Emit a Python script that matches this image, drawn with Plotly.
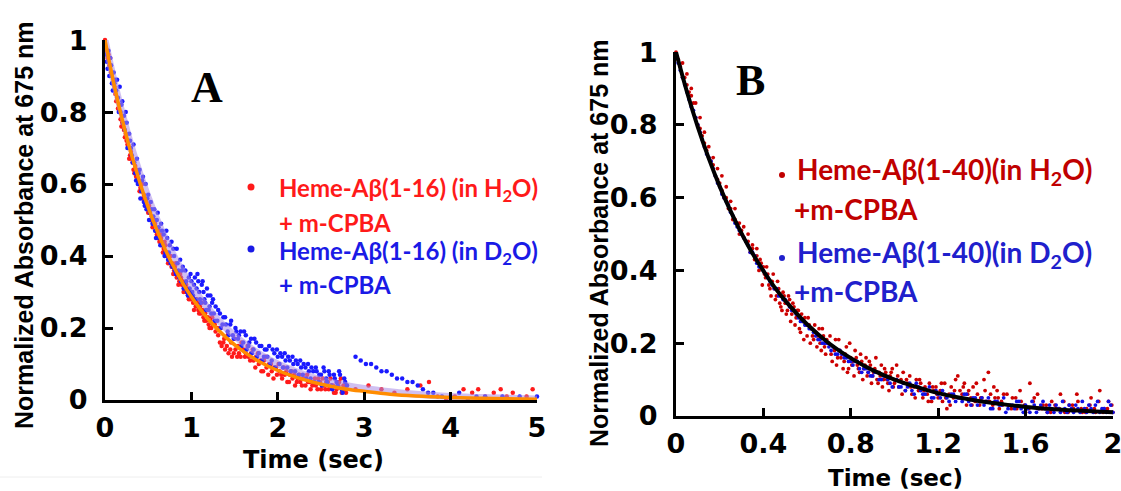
import plotly.graph_objects as go

# ---------------- DATA ----------------
# Panel A : Heme-Abeta(1-16) + m-CPBA, (time [s], normalized absorbance)
a_h2o = [(0.00,1.00),(0.02,0.97),(0.03,0.95),(0.05,0.93),(0.06,0.95),(0.08,0.90),(0.09,0.88),(0.11,0.87),(0.12,0.85),
 (0.14,0.84),(0.15,0.81),(0.17,0.80),(0.18,0.78),(0.20,0.77),(0.21,0.76),(0.23,0.73),(0.24,0.74),(0.26,0.71),(0.27,0.70),
 (0.29,0.68),(0.30,0.69),(0.32,0.66),(0.33,0.64),(0.35,0.65),(0.36,0.62),(0.38,0.61),(0.39,0.60),(0.41,0.59),(0.42,0.58),
 (0.44,0.56),(0.45,0.57),(0.47,0.54),(0.48,0.55),(0.50,0.52),(0.51,0.54),(0.53,0.50),(0.54,0.51),(0.56,0.49),(0.57,0.50),
 (0.59,0.47),(0.60,0.46),(0.62,0.47),(0.63,0.44),(0.65,0.45),(0.66,0.43),(0.68,0.42),(0.69,0.44),(0.71,0.40),(0.72,0.41),
 (0.74,0.39),(0.75,0.40),(0.77,0.37),(0.78,0.38),(0.80,0.36),(0.81,0.37),(0.83,0.34),(0.84,0.35),(0.86,0.33),(0.87,0.35),
 (0.89,0.32),(0.90,0.33),(0.92,0.31),(0.93,0.30),(0.95,0.31),(0.96,0.29),(0.98,0.30),(0.99,0.28),(1.01,0.29),(1.02,0.27),
 (1.04,0.28),(1.05,0.26),(1.07,0.27),(1.08,0.25),(1.10,0.26),(1.11,0.24),(1.13,0.25),(1.14,0.23),(1.16,0.24),(1.17,0.22),
 (1.19,0.23),(1.20,0.21),(1.22,0.22),(1.23,0.20),(1.25,0.21),(1.28,0.19),(1.30,0.20),(1.33,0.16),(1.35,0.15),(1.37,0.16),
 (1.39,0.14),(1.41,0.15),(1.43,0.13),(1.45,0.14),(1.47,0.12),(1.49,0.13),(1.51,0.14),(1.53,0.12),(1.55,0.13),(1.57,0.12),
 (1.60,0.14),(1.63,0.13),(1.66,0.12),(1.69,0.13),(1.72,0.11),(1.75,0.12),(1.78,0.10),(1.81,0.08),(1.84,0.11),(1.87,0.09),
 (1.90,0.10),(1.93,0.08),(1.96,0.09),(1.99,0.07),(2.02,0.08),(2.05,0.06),(2.08,0.07),(2.11,0.05),(2.14,0.07),(2.17,0.06),
 (2.20,0.04),(2.23,0.06),(2.26,0.05),(2.29,0.06),(2.32,0.04),(2.35,0.05),(2.38,0.03),(2.41,0.05),(2.44,0.04),(2.47,0.06),
 (2.50,0.03),(2.53,0.04),(2.56,0.05),(2.59,0.03),(2.62,0.04),(2.65,0.02),(2.68,0.03),(2.71,0.05),(2.74,0.02),(2.77,0.03),
 (2.80,0.04),(2.90,0.03),(3.05,0.04),(3.20,0.03),(3.35,0.02),(3.50,0.03),(3.65,0.04),(3.75,0.05),(3.85,0.01),(3.95,0.00),
 (4.05,0.01),(4.15,0.03),(4.25,0.02),(4.32,0.03),(4.40,0.01),(4.50,0.02),(4.58,0.03),(4.65,0.01),(4.72,0.02),(4.80,0.00),
 (4.88,0.01),(4.95,0.03)]
a_h2o_more = [(0.04,0.96),(0.07,0.91),(0.10,0.89),(0.13,0.83),(0.16,0.82),(0.19,0.76),(0.22,0.75),(0.25,0.72),(0.28,0.67),
 (0.31,0.67),(0.34,0.63),(0.37,0.64),(0.40,0.58),(0.43,0.60),(0.46,0.55),(0.49,0.53),(0.52,0.52),(0.55,0.48),(0.58,0.49),
 (0.61,0.45),(0.64,0.46),(0.67,0.41),(0.70,0.43),(0.73,0.38),(0.76,0.40),(0.79,0.35),(0.82,0.38),(0.85,0.32),(0.88,0.34),
 (0.91,0.30),(0.94,0.32),(0.97,0.28),(1.00,0.30),(1.03,0.25),(1.06,0.28),(1.09,0.24),(1.12,0.27),(1.15,0.22),(1.18,0.25),
 (1.21,0.20),(1.24,0.23),(1.27,0.21),(1.31,0.18),(1.34,0.20),(1.38,0.17),(1.42,0.18),(1.46,0.16),(1.50,0.17),(1.54,0.15),
 (1.58,0.16),(1.62,0.12),(1.65,0.15),(1.68,0.11),(1.71,0.14),(1.74,0.09),(1.77,0.13),(1.80,0.11),(1.83,0.08),(1.86,0.12),
 (1.89,0.07),(1.92,0.10),(1.95,0.06),(1.98,0.09),(2.01,0.10),(2.04,0.07),(2.07,0.09),(2.10,0.08),(2.13,0.05),(2.16,0.08),
 (2.19,0.07),(2.22,0.05),(2.25,0.07),(2.28,0.04),(2.31,0.06),(2.34,0.07),(2.37,0.05),(2.40,0.04),(2.43,0.06),(2.46,0.03),
 (2.49,0.05),(2.52,0.06),(2.55,0.03),(2.58,0.05),(2.61,0.06),(2.64,0.04),(2.67,0.02),(2.70,0.04),(2.73,0.06),(2.76,0.04),
 (2.79,0.02)]

a_d2o = [(0.00,0.98),(0.02,0.94),(0.04,0.97),(0.05,0.90),(0.07,0.93),(0.08,0.88),(0.10,0.91),(0.12,0.89),(0.13,0.86),
 (0.15,0.84),(0.17,0.87),(0.18,0.80),(0.20,0.83),(0.22,0.79),(0.23,0.75),(0.25,0.77),(0.27,0.72),(0.28,0.74),(0.30,0.70),
 (0.32,0.66),(0.33,0.71),(0.35,0.63),(0.37,0.67),(0.38,0.60),(0.40,0.64),(0.42,0.58),(0.43,0.61),(0.45,0.55),(0.47,0.60),
 (0.48,0.53),(0.50,0.57),(0.52,0.52),(0.53,0.55),(0.55,0.49),(0.57,0.53),(0.58,0.47),(0.60,0.50),(0.62,0.48),(0.63,0.45),
 (0.65,0.49),(0.67,0.43),(0.68,0.46),(0.70,0.41),(0.72,0.45),(0.73,0.39),(0.75,0.43),(0.77,0.44),(0.78,0.37),(0.80,0.40),
 (0.82,0.35),(0.83,0.42),(0.85,0.36),(0.87,0.39),(0.88,0.33),(0.90,0.37),(0.92,0.32),(0.93,0.36),(0.95,0.30),(0.97,0.34),
 (0.98,0.31),(1.00,0.33),(1.02,0.29),(1.04,0.34),(1.06,0.31),(1.08,0.33),(1.10,0.28),(1.12,0.32),(1.14,0.30),(1.16,0.27),
 (1.18,0.31),(1.20,0.25),(1.22,0.29),(1.24,0.27),(1.26,0.24),(1.28,0.26),(1.30,0.22),(1.33,0.24),(1.36,0.21),(1.39,0.23),
 (1.42,0.19),(1.45,0.21),(1.48,0.18),(1.51,0.20),(1.54,0.17),(1.57,0.19),(1.60,0.16),(1.63,0.18),(1.66,0.15),(1.69,0.17),
 (1.72,0.14),(1.75,0.16),(1.78,0.13),(1.81,0.15),(1.84,0.12),(1.87,0.14),(1.90,0.15),(1.93,0.11),(1.96,0.13),(1.99,0.14),
 (2.02,0.10),(2.05,0.12),(2.08,0.13),(2.11,0.09),(2.14,0.11),(2.17,0.12),(2.20,0.08),(2.23,0.10),(2.26,0.11),(2.29,0.07),
 (2.32,0.09),(2.35,0.10),(2.38,0.06),(2.41,0.08),(2.44,0.09),(2.47,0.05),(2.50,0.07),(2.53,0.09),(2.56,0.06),(2.59,0.08),
 (2.62,0.04),(2.65,0.07),(2.68,0.05),(2.71,0.08),(2.74,0.03),(2.77,0.06),(2.80,0.04),(2.90,0.12),(2.96,0.11),(3.02,0.10),
 (3.08,0.10),(3.14,0.09),(3.20,0.08),(3.26,0.08),(3.32,0.07),(3.38,0.06),(3.44,0.06),(3.50,0.05),(3.56,0.05),(3.62,0.04),
 (3.68,0.03),(3.74,0.02),(3.80,0.02),(3.90,0.01),(4.00,0.01),(4.10,0.02),(4.20,0.00),(4.30,0.01),(4.40,0.01),(4.50,0.00),
 (4.60,0.01),(4.70,0.00),(4.80,0.01),(4.90,0.00),(5.00,0.01)]
a_d2o_more = [(0.01,0.96),(0.03,0.92),(0.06,0.95),(0.09,0.86),(0.11,0.88),(0.14,0.89),(0.16,0.80),(0.19,0.82),(0.21,0.77),
 (0.24,0.80),(0.26,0.70),(0.29,0.72),(0.31,0.68),(0.34,0.66),(0.36,0.61),(0.39,0.63),(0.41,0.56),(0.44,0.62),(0.46,0.54),
 (0.49,0.56),(0.51,0.50),(0.54,0.53),(0.56,0.51),(0.59,0.45),(0.61,0.52),(0.64,0.43),(0.66,0.47),(0.69,0.40),(0.71,0.47),
 (0.74,0.41),(0.76,0.38),(0.79,0.42),(0.81,0.36),(0.84,0.38),(0.86,0.34),(0.89,0.36),(0.91,0.31),(0.94,0.33),(0.96,0.29),
 (0.99,0.35),(1.01,0.30),(1.03,0.32),(1.05,0.28),(1.07,0.35),(1.09,0.30),(1.11,0.27),(1.13,0.33),(1.15,0.28),(1.17,0.25),
 (1.19,0.29),(1.21,0.26),(1.23,0.24),(1.25,0.28),(1.27,0.22),(1.31,0.25),(1.34,0.20),(1.37,0.23),(1.40,0.21),(1.43,0.18),
 (1.46,0.22),(1.49,0.17),(1.52,0.19),(1.55,0.18),(1.58,0.15),(1.61,0.19),(1.64,0.14),(1.67,0.16),(1.70,0.13),(1.73,0.17),
 (1.76,0.12),(1.79,0.15),(1.82,0.11),(1.85,0.14),(1.88,0.12),(1.91,0.10),(1.94,0.14),(1.97,0.09),(2.00,0.12),(2.03,0.13),
 (2.06,0.09),(2.09,0.11),(2.12,0.12),(2.15,0.08),(2.18,0.10),(2.21,0.11),(2.24,0.07),(2.27,0.09),(2.30,0.10),(2.33,0.06),
 (2.36,0.08),(2.39,0.09),(2.42,0.05),(2.45,0.08),(2.48,0.07),(2.51,0.04),(2.54,0.08),(2.57,0.05),(2.60,0.07),(2.63,0.03),
 (2.66,0.06),(2.69,0.04),(2.72,0.07),(2.75,0.02),(2.78,0.05)]

a_fit_t = [0,0.1,0.2,0.3,0.4,0.5,0.6,0.7,0.8,0.9,1.0,1.2,1.4,1.6,1.8,2.0,2.2,2.4,2.6,2.8,3.0,3.3,3.6,4.0,4.5,5.0]
a_fit_h2o = [1.0,0.882,0.779,0.687,0.607,0.535,0.472,0.417,0.368,0.325,0.287,0.223,0.174,0.135,0.105,0.082,0.064,
             0.050,0.039,0.030,0.024,0.016,0.011,0.007,0.004,0.002]
a_fit_d2o = [1.0,0.891,0.795,0.708,0.631,0.563,0.502,0.447,0.399,0.355,0.317,0.252,0.200,0.159,0.126,0.100,0.080,
             0.063,0.050,0.040,0.032,0.023,0.016,0.010,0.006,0.003]

# Panel B : Heme-Abeta(1-40) + m-CPBA
b_h2o = [(0.00,1.00),(0.01,0.98),(0.02,0.96),(0.03,0.93),(0.04,0.93),(0.05,0.91),(0.06,0.89),(0.07,0.88),(0.08,0.86),
 (0.09,0.82),(0.10,0.80),(0.11,0.79),(0.12,0.77),(0.13,0.75),(0.14,0.73),(0.15,0.71),(0.16,0.70),(0.17,0.69),(0.18,0.66),
 (0.19,0.65),(0.20,0.64),(0.21,0.62),(0.22,0.60),(0.23,0.60),(0.24,0.57),(0.25,0.57),(0.26,0.54),(0.27,0.54),(0.28,0.53),
 (0.29,0.50),(0.30,0.51),(0.31,0.49),(0.32,0.48),(0.33,0.48),(0.34,0.45),(0.35,0.46),(0.36,0.43),(0.37,0.44),(0.38,0.40),
 (0.39,0.42),(0.40,0.41),(0.41,0.38),(0.42,0.39),(0.43,0.35),(0.44,0.37),(0.45,0.35),(0.46,0.33),(0.47,0.35),(0.48,0.30),
 (0.49,0.34),(0.50,0.31),(0.51,0.29),(0.52,0.32),(0.53,0.28),(0.54,0.30),(0.55,0.27),(0.56,0.29),(0.57,0.23),(0.58,0.26),
 (0.59,0.27),(0.60,0.22),(0.61,0.25),(0.62,0.24),(0.63,0.21),(0.64,0.23),(0.65,0.22),(0.66,0.20),(0.67,0.24),(0.68,0.19),
 (0.69,0.21),(0.70,0.20),(0.71,0.17),(0.72,0.19),(0.73,0.21),(0.74,0.16),(0.75,0.18),(0.76,0.17),(0.77,0.15),(0.78,0.19),
 (0.79,0.13),(0.80,0.16),(0.81,0.15),(0.82,0.18),(0.83,0.14),(0.84,0.12),(0.85,0.15),(0.86,0.13),(0.87,0.16),(0.88,0.12),
 (0.89,0.14),(0.90,0.11),(0.91,0.13),(0.92,0.10),(0.93,0.12),(0.94,0.14),(0.95,0.10),(0.96,0.12),(0.97,0.09),(0.98,0.11),
 (0.99,0.13),(1.00,0.09),(1.01,0.14),(1.02,0.08),(1.03,0.10),(1.04,0.12),(1.05,0.07),(1.06,0.09),(1.07,0.11),(1.08,0.06),
 (1.09,0.08),(1.10,0.10),(1.11,0.07),(1.12,0.09),(1.13,0.05),(1.14,0.08),(1.15,0.06),(1.16,0.09),(1.17,0.04),(1.18,0.07),
 (1.19,0.08),(1.20,0.05),(1.21,0.07),(1.22,0.04),(1.23,0.09),(1.24,0.02),(1.25,0.06),(1.26,0.08),(1.27,0.05),(1.28,0.10),
 (1.29,0.11),(1.30,0.07),(1.31,0.06),(1.32,0.09),(1.33,0.03),(1.34,0.07),(1.35,0.05),(1.36,0.08),(1.37,0.04),(1.38,0.06),
 (1.39,0.03),(1.40,0.05),(1.41,0.10),(1.42,0.04),(1.43,0.12),(1.44,0.06),(1.45,0.03),(1.46,0.05),(1.47,0.07),(1.48,0.02),
 (1.49,0.04),(1.50,0.06),(1.52,0.03),(1.54,0.05),(1.56,0.02),(1.58,0.04),(1.60,0.01),(1.62,0.09),(1.64,0.05),(1.66,0.02),
 (1.68,0.03),(1.70,0.01),(1.72,0.04),(1.74,0.02),(1.76,0.06),(1.78,0.01),(1.80,0.03),(1.82,0.02),(1.84,0.04),(1.86,0.01),
 (1.88,0.02),(1.90,0.05),(1.92,0.01),(1.94,0.07),(1.96,0.02),(1.98,0.04),(2.00,0.01)]
b_h2o_more = [(0.03,0.97),(0.05,0.94),(0.07,0.90),(0.09,0.86),(0.11,0.82),(0.13,0.78),(0.15,0.74),(0.17,0.71),(0.19,0.68),
 (0.21,0.66),(0.23,0.63),(0.25,0.59),(0.27,0.57),(0.29,0.53),(0.31,0.52),(0.33,0.50),(0.35,0.47),(0.37,0.46),(0.385,0.43),
 (0.395,0.36),(0.405,0.39),(0.415,0.41),(0.425,0.36),(0.435,0.33),(0.445,0.39),(0.455,0.32),(0.465,0.37),(0.475,0.31),
 (0.485,0.29),(0.495,0.33),(0.505,0.28),(0.515,0.33),(0.525,0.26),(0.535,0.31),(0.545,0.25),(0.555,0.29),(0.565,0.24),
 (0.575,0.28),(0.585,0.21),(0.595,0.25),(0.605,0.27),(0.615,0.20),(0.625,0.22),(0.635,0.25),(0.645,0.19),(0.655,0.24),
 (0.665,0.18),(0.675,0.22),(0.685,0.17),(0.695,0.20),(0.705,0.22),(0.715,0.15),(0.725,0.18),(0.735,0.14),(0.745,0.21),
 (0.755,0.16),(0.765,0.13),(0.775,0.17),(0.785,0.12),(0.795,0.20),(0.805,0.14),(0.815,0.11),(0.825,0.16),(0.835,0.13),
 (0.845,0.17),(0.855,0.10),(0.865,0.14),(0.875,0.11),(0.885,0.15),(0.895,0.09),(0.905,0.12),(0.915,0.16),(0.925,0.09),
 (0.935,0.11),(0.945,0.08),(0.955,0.13),(0.965,0.10),(0.975,0.07),(0.985,0.12),(0.995,0.08),(1.015,0.11),(1.035,0.06),
 (1.055,0.10),(1.075,0.08),(1.095,0.05),(1.115,0.10),(1.135,0.07),(1.155,0.04),(1.175,0.08),(1.195,0.06),(1.215,0.09),
 (1.235,0.05),(1.255,0.03),(1.275,0.07),(1.295,0.05),(1.315,0.08),(1.335,0.06),(1.355,0.03),(1.375,0.09),(1.395,0.05),
 (1.415,0.07),(1.435,0.04),(1.455,0.08),(1.475,0.05),(1.495,0.03),(1.515,0.06),(1.535,0.02),(1.555,0.05),(1.575,0.07),
 (1.595,0.03),(1.615,0.02),(1.635,0.04),(1.655,0.06),(1.675,0.02),(1.695,0.03),(1.715,0.01),(1.735,0.03),(1.755,0.02),
 (1.775,0.04),(1.795,0.01),(1.815,0.03),(1.835,0.06),(1.855,0.02),(1.875,0.01),(1.895,0.03),(1.915,0.02),(1.935,0.04),
 (1.955,0.01),(1.975,0.02),(1.995,0.03)]

b_d2o = [(0.00,0.99),(0.02,0.95),(0.04,0.91),(0.06,0.87),(0.08,0.84),(0.10,0.80),(0.12,0.76),(0.14,0.72),(0.16,0.70),
 (0.18,0.66),(0.20,0.63),(0.22,0.60),(0.24,0.58),(0.26,0.55),(0.28,0.52),(0.30,0.50),(0.32,0.48),(0.34,0.45),(0.36,0.44),
 (0.38,0.41),(0.40,0.40),(0.42,0.38),(0.44,0.36),(0.46,0.35),(0.48,0.33),(0.50,0.32),(0.52,0.30),(0.54,0.29),(0.56,0.27),
 (0.58,0.26),(0.60,0.25),(0.62,0.24),(0.64,0.22),(0.66,0.21),(0.68,0.20),(0.70,0.19),(0.72,0.19),(0.74,0.17),(0.76,0.17),
 (0.78,0.16),(0.80,0.15),(0.82,0.15),(0.84,0.13),(0.86,0.13),(0.88,0.12),(0.90,0.11),(0.92,0.12),(0.94,0.10),(0.96,0.11),
 (0.98,0.09),(1.00,0.10),(1.02,0.08),(1.04,0.09),(1.06,0.08),(1.08,0.07),(1.10,0.09),(1.12,0.07),(1.14,0.06),(1.16,0.08),
 (1.18,0.05),(1.20,0.06),(1.22,0.07),(1.24,0.05),(1.26,0.06),(1.28,0.04),(1.30,0.05),(1.32,0.06),(1.34,0.04),(1.36,0.05),
 (1.38,0.03),(1.40,0.05),(1.42,0.04),(1.44,0.02),(1.46,0.04),(1.48,0.03),(1.50,0.05),(1.52,0.02),(1.54,0.03),(1.56,0.04),
 (1.58,0.02),(1.60,0.03),(1.62,0.01),(1.64,0.03),(1.66,0.02),(1.68,0.04),(1.70,0.01),(1.72,0.02),(1.74,0.03),(1.76,0.01),
 (1.78,0.02),(1.80,0.03),(1.82,0.01),(1.84,0.02),(1.86,0.04),(1.88,0.01),(1.90,0.02),(1.92,0.03),(1.94,0.01),(1.96,0.02),
 (1.98,0.04),(2.00,0.01)]
b_d2o_more = [(0.01,0.97),(0.03,0.93),(0.05,0.89),(0.07,0.85),(0.09,0.82),(0.11,0.78),(0.13,0.74),(0.15,0.71),(0.17,0.68),
 (0.19,0.64),(0.21,0.61),(0.23,0.59),(0.25,0.56),(0.27,0.53),(0.29,0.51),(0.31,0.49),(0.33,0.47),(0.35,0.45),(0.37,0.42),
 (0.39,0.41),(0.41,0.39),(0.43,0.37),(0.45,0.35),(0.47,0.33),(0.49,0.32),(0.51,0.31),(0.53,0.29),(0.55,0.28),(0.57,0.26),
 (0.59,0.25),(0.61,0.24),(0.63,0.23),(0.65,0.21),(0.67,0.20),(0.69,0.20),(0.71,0.18),(0.73,0.17),(0.75,0.18),(0.77,0.16),
 (0.79,0.15),(0.81,0.14),(0.83,0.15),(0.85,0.12),(0.87,0.13),(0.89,0.11),(0.91,0.12),(0.93,0.10),(0.95,0.11),(0.97,0.10),
 (0.99,0.08),(1.01,0.10),(1.03,0.08),(1.05,0.07),(1.07,0.09),(1.09,0.06),(1.11,0.08),(1.13,0.06),(1.15,0.07),(1.17,0.05),
 (1.19,0.07),(1.21,0.05),(1.23,0.06),(1.25,0.04),(1.27,0.06),(1.29,0.05),(1.31,0.04),(1.33,0.06),(1.35,0.03),(1.37,0.05),
 (1.39,0.04),(1.41,0.03),(1.43,0.05),(1.45,0.02),(1.47,0.04),(1.49,0.03),(1.51,0.01),(1.53,0.03),(1.55,0.02),(1.57,0.04),
 (1.59,0.01),(1.61,0.02),(1.63,0.04),(1.65,0.01),(1.67,0.03),(1.69,0.02),(1.71,0.03),(1.73,0.01),(1.75,0.02),(1.77,0.04),
 (1.79,0.01),(1.81,0.02),(1.83,0.03),(1.85,0.01),(1.87,0.02),(1.89,0.03),(1.91,0.01),(1.93,0.04),(1.95,0.02),(1.97,0.01),
 (1.99,0.03)]

b_fit_t = [0,0.05,0.1,0.15,0.2,0.25,0.3,0.35,0.4,0.45,0.5,0.6,0.7,0.8,0.9,1.0,1.1,1.2,1.3,1.4,1.5,1.6,1.7,1.8,1.9,2.0]
b_fit = [1.0,0.891,0.794,0.708,0.631,0.563,0.502,0.447,0.399,0.355,0.317,0.252,0.200,0.159,0.126,0.100,0.080,
         0.063,0.050,0.040,0.032,0.025,0.020,0.016,0.013,0.010]

a_xticks = [0, 1, 2, 3, 4, 5]
a_xticklabels = ["0", "1", "2", "3", "4", "5"]
b_xticks = [0, 0.4, 0.8, 1.2, 1.6, 2.0]
b_xticklabels = ["0", "0.4", "0.8", "1.2", "1.6", "2"]
yticks = [0, 0.2, 0.4, 0.6, 0.8, 1.0]
yticklabels = ["0", "0.2", "0.4", "0.6", "0.8", "1"]

# ---------------- FIGURE ----------------
W, H = 1121, 491
def fx(p): return p / W
def fy(p): return 1 - p / H

fig = go.Figure()

def unz(pairs):
    return [p[0] for p in pairs], [p[1] for p in pairs]

def pts(pairs, color, size, xa, ya):
    x, y = unz(pairs)
    fig.add_trace(go.Scatter(x=x, y=y, mode="markers", marker=dict(size=size, color=color),
                             cliponaxis=False, xaxis=xa, yaxis=ya))

# Panel A
pts(a_h2o + a_h2o_more, "#FF1A1A", 4.5, "x", "y")
pts(a_d2o + a_d2o_more, "#1A1AFF", 4.5, "x", "y")
fig.add_trace(go.Scatter(x=a_fit_t, y=a_fit_d2o, mode="lines", line=dict(color="rgba(170,140,230,0.55)", width=7, shape="spline"),
                         xaxis="x", yaxis="y"))
fig.add_trace(go.Scatter(x=a_fit_t, y=a_fit_h2o, mode="lines", line=dict(color="#FF8C00", width=3.5, shape="spline"),
                         xaxis="x", yaxis="y"))

# Panel B
pts(b_h2o + b_h2o_more, "#CC0000", 3.8, "x2", "y2")
pts(b_d2o + b_d2o_more, "#1010E6", 3.8, "x2", "y2")
fig.add_trace(go.Scatter(x=b_fit_t, y=b_fit, mode="lines", line=dict(color="black", width=4, shape="spline"),
                         xaxis="x2", yaxis="y2"))

tickfont = dict(family="DejaVu Sans", size=27, color="black", weight="bold")
axcommon = dict(showline=True, linecolor="black", linewidth=3, ticks="inside", ticklen=8, tickwidth=3,
                tickcolor="black", showgrid=False, zeroline=False, tickfont=tickfont, automargin=False,
                ticklabeloverflow="allow")

fig.update_layout(
    template="none",
    width=W, height=H, margin=dict(l=0, r=0, t=0, b=0, pad=0, autoexpand=False),
    paper_bgcolor="white", plot_bgcolor="white", showlegend=False,
    xaxis=dict(domain=[fx(105), fx(537)], range=[0, 5.0005], anchor="y", tickvals=a_xticks, ticktext=a_xticklabels,
               ticklabelstandoff=2, **axcommon),
    yaxis=dict(domain=[fy(400), fy(40)], range=[0, 1.0002], anchor="x", tickvals=yticks, ticktext=yticklabels,
               ticklabelstandoff=9, **axcommon),
    xaxis2=dict(domain=[fx(676), fx(1113)], range=[0, 2.0005], anchor="y2", tickvals=b_xticks, ticktext=b_xticklabels,
                ticklabelstandoff=2, **axcommon),
    yaxis2=dict(domain=[fy(416), fy(52)], range=[0, 1.0002], anchor="x2", tickvals=yticks, ticktext=yticklabels,
                ticklabelstandoff=10, **axcommon),
)

ann = []
def add_text(text, px, py, size, color, family, xanchor="center", angle=0, weight="bold"):
    ann.append(dict(text=text, x=fx(px), y=fy(py), xref="paper", yref="paper", showarrow=False,
                    xanchor=xanchor, yanchor="middle", textangle=angle,
                    font=dict(family=family, size=size, color=color, weight=weight)))

# axis titles
add_text("Normalized Absorbance at 675 nm", 24, 225, 25, "black", "Liberation Sans", angle=-90)
add_text("Time (sec)", 313, 460, 24, "black", "DejaVu Sans")
add_text("Normalized Absorbance at 675 nm", 599, 243, 25, "black", "Liberation Sans", angle=-90)
add_text("Time (sec)", 895, 478, 23, "black", "DejaVu Sans")

# panel letters
add_text("A", 207, 87, 44, "black", "Liberation Serif")
add_text("B", 750, 80, 44, "black", "Liberation Serif")

# legend A
add_text("Heme-Aβ(1-16) (in H<sub>2</sub>O)", 277, 190, 24, "#FF1A1A", "Lato", xanchor="left")
add_text("+ m-CPBA", 277, 222, 24, "#FF1A1A", "Lato", xanchor="left")
add_text("Heme-Aβ(1-16) (in D<sub>2</sub>O)", 277, 252, 24, "#1A1AE6", "Lato", xanchor="left")
add_text("+ m-CPBA", 277, 284, 24, "#1A1AE6", "Lato", xanchor="left")
# legend B
add_text("Heme-Aβ(1-40)(in H<sub>2</sub>O)", 795, 171, 28, "#C00000", "Lato", xanchor="left")
add_text("+m-CPBA", 792, 209, 28, "#C00000", "Lato", xanchor="left")
add_text("Heme-Aβ(1-40)(in D<sub>2</sub>O)", 795, 254, 28, "#2020CC", "Lato", xanchor="left")
add_text("+m-CPBA", 792, 291, 28, "#2020CC", "Lato", xanchor="left")
fig.update_layout(annotations=ann)

shapes = []
def dot(px, py, r, color):
    shapes.append(dict(type="circle", xref="paper", yref="paper", x0=fx(px - r), x1=fx(px + r),
                       y0=fy(py + r), y1=fy(py - r), fillcolor=color, line=dict(width=0)))
dot(251, 187, 3.5, "#FF1A1A")
dot(251, 249, 3.5, "#1A1AE6")
dot(782, 175, 3, "#C00000")
dot(782, 258, 3, "#2020CC")
shapes.append(dict(type="line", xref="paper", yref="paper", x0=0, x1=fx(542), y0=fy(477), y1=fy(477),
                   line=dict(color="#EEEEEE", width=1)))
fig.update_layout(shapes=shapes)

fig.write_html("out.html")
